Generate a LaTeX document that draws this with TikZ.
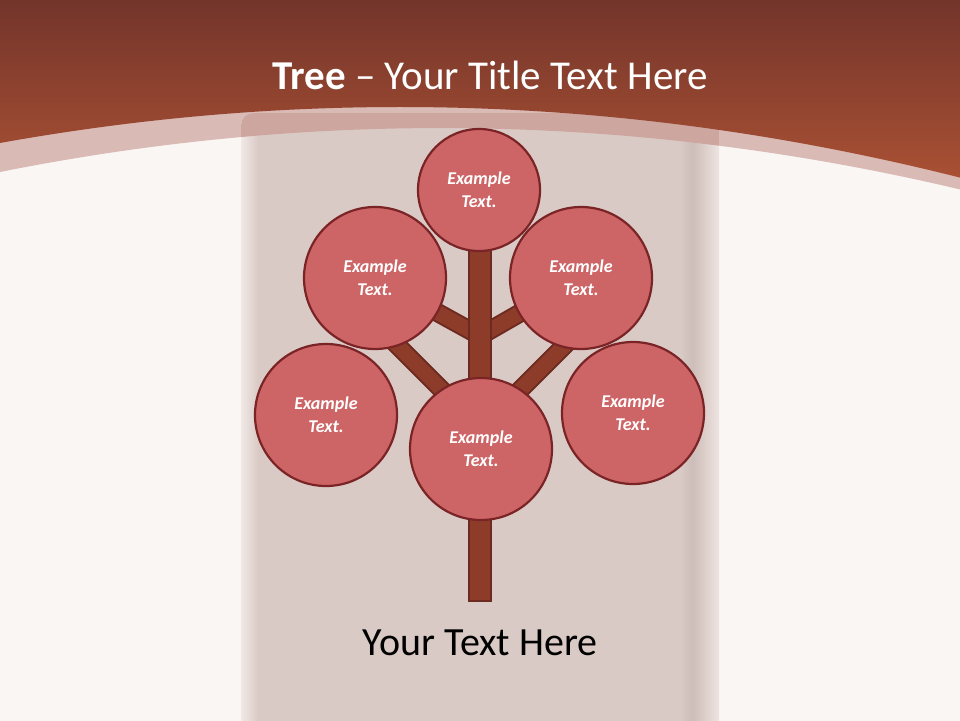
\documentclass[tikz,border=0pt]{standalone}
\usepackage{fontspec}
\setmainfont{Carlito}
\usetikzlibrary{calc}
\pgfdeclarelayer{back}
\pgfdeclarelayer{mid}
\pgfsetlayers{back,mid,main}
\definecolor{bgc}{HTML}{FAF6F4}
\definecolor{browntop}{HTML}{71342A}
\definecolor{brownbot}{HTML}{A95034}
\definecolor{bandc}{HTML}{DABAB4}
\definecolor{colc}{HTML}{DACAC6}
\definecolor{colband}{HTML}{CDA6A0}
\definecolor{circfill}{HTML}{CD6567}
\definecolor{circline}{HTML}{7A2426}
\definecolor{trunkfill}{HTML}{8D3C29}
\definecolor{trunkline}{HTML}{6C2A20}
\tikzset{
  leaf/.style={circle, fill=circfill, draw=circline, line width=2.2pt, inner sep=0pt,
    align=center, text=white, font=\fontsize{18}{23}\selectfont\bfseries\itshape},
  bigleaf/.style={leaf, minimum size=142pt},
  smallleaf/.style={leaf, minimum size=122pt},
  branchout/.style={draw=trunkline, line width=19pt},
  branchin/.style={draw=trunkfill, line width=15pt},
  trunkbox/.style={fill=trunkfill, draw=trunkline, line width=2pt},
}
\begin{document}
\begin{tikzpicture}[x=1pt,y=-1pt]
\useasboundingbox (0,0) rectangle (960,720);
\begin{pgfonlayer}{back}
% background
\fill[bgc] (-5,-5) rectangle (965,730);
% light band
\fill[bandc] (0,0) -- (960,0) -- (960,189.4) .. controls (640,113.9) and (320,108.1) .. (0,172) -- cycle;
% column
\begin{scope}
  \clip[rounded corners=12pt] (241,113) rectangle (719,760);
  \fill[colc] (241,113) rectangle (719,740);
  \shade[left color=bgc!70!colc, right color=colc] (241,113) rectangle (258,740);
  \shade[left color=colc, right color=colc!94!black] (680,113) rectangle (692,740);
  \shade[left color=colc!94!black, right color=colc] (692,113) rectangle (702,740);
  \shade[left color=colc, right color=bgc!60!colc] (702,113) rectangle (719,740);
  \fill[colband] (0,0) -- (960,0) -- (960,189.4) .. controls (640,113.9) and (320,108.1) .. (0,172) -- cycle;
\end{scope}
% brown top
\shade[top color=browntop, bottom color=brownbot] (0,-5) -- (960,-5) -- (960,177.6) .. controls (640,96.9) and (320,85.4) .. (0,143) -- cycle;
\end{pgfonlayer}
% title
\node[text=white, font=\fontsize{41}{48}\selectfont] (title) at (490,75) {\textbf{Tree} – Your Title Text Here};
% tree nodes
\node[bigleaf] (ul) at (375,278) {Example\\Text.};
\node[bigleaf] (ur) at (581,278) {Example\\Text.};
\node[bigleaf] (ml) at (326,415) {Example\\Text.};
\node[bigleaf] (mr) at (633,413) {Example\\Text.};
\node[bigleaf] (mc) at (481,449) {Example\\Text.};
\node[smallleaf] (top) at (479,190) {Example\\Text.};
% junction coordinates
\coordinate (tj) at (480,336);
\coordinate (lj) at (481,429);
\coordinate (lle) at (390,338);
\coordinate (lre) at (572,338);
\coordinate (ttop) at (480,250);
\coordinate (tbot) at (480,601);
% branches and trunk, behind the leaves
\begin{pgfonlayer}{mid}
\path[branchout] (ul.center) -- (tj);
\path[branchout] (ur.center) -- (tj);
\path[branchout] (lj) -- (lle);
\path[branchout] (lj) -- (lre);
\path[branchin] (ul.center) -- (tj);
\path[branchin] (ur.center) -- (tj);
\path[branchin] (lj) -- (lle);
\path[branchin] (lj) -- (lre);
\path[trunkbox] ($(ttop)+(-11,0)$) rectangle ($(tbot)+(11,0)$);
\end{pgfonlayer}
% bottom text
\node[text=black, font=\fontsize{40}{46}\selectfont] (caption) at (480,643) {Your Text Here};
\end{tikzpicture}
\end{document}
